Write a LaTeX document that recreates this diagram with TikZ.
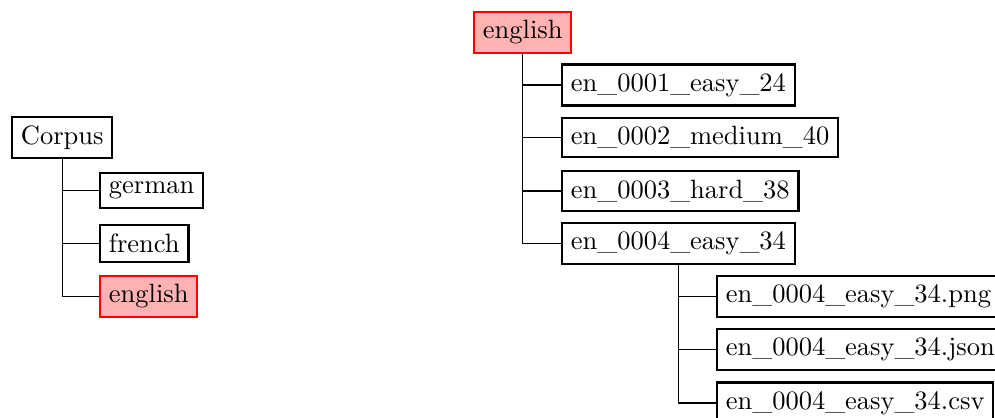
\documentclass[tikz,border=0pt]{standalone}
\begin{document}
\begin{tikzpicture}[x=0.37736pt,y=-0.37736pt,
  box/.style={draw,thick,inner sep=0.3333em,anchor=west},
  hl/.style={box,draw=red,fill=red!30},
  link/.style={draw,thin}]
\useasboundingbox (0,0) rectangle (995,418);
\node[box] (corpus) at (11,137.5) {Corpus};
\node[box] (german) at (99,190.5) {german};
\node[box] (french) at (99,243.5) {french};
\node[hl] (englishL) at (99,296.5) {english};
\node[hl] (english) at (473,32.5) {english};
\node[box] (e1) at (561,85) {en\_0001\_easy\_24};
\node[box] (e2) at (561,137.5) {en\_0002\_medium\_40};
\node[box] (e3) at (561,191) {en\_0003\_hard\_38};
\node[box] (e4) at (561,243.5) {en\_0004\_easy\_34};
\node[box] (f1) at (716,296.5) {en\_0004\_easy\_34.png};
\node[box] (f2) at (716,349.5) {en\_0004\_easy\_34.json};
\node[box] (f3) at (716,403) {en\_0004\_easy\_34.csv};
\foreach \c in {german,french,englishL} \draw[link] (corpus.south) |- (\c.west);
\foreach \c in {e1,e2,e3,e4} \draw[link] (english.south) |- (\c.west);
\foreach \c in {f1,f2,f3} \draw[link] (e4.south) |- (\c.west);
\end{tikzpicture}
\end{document}
